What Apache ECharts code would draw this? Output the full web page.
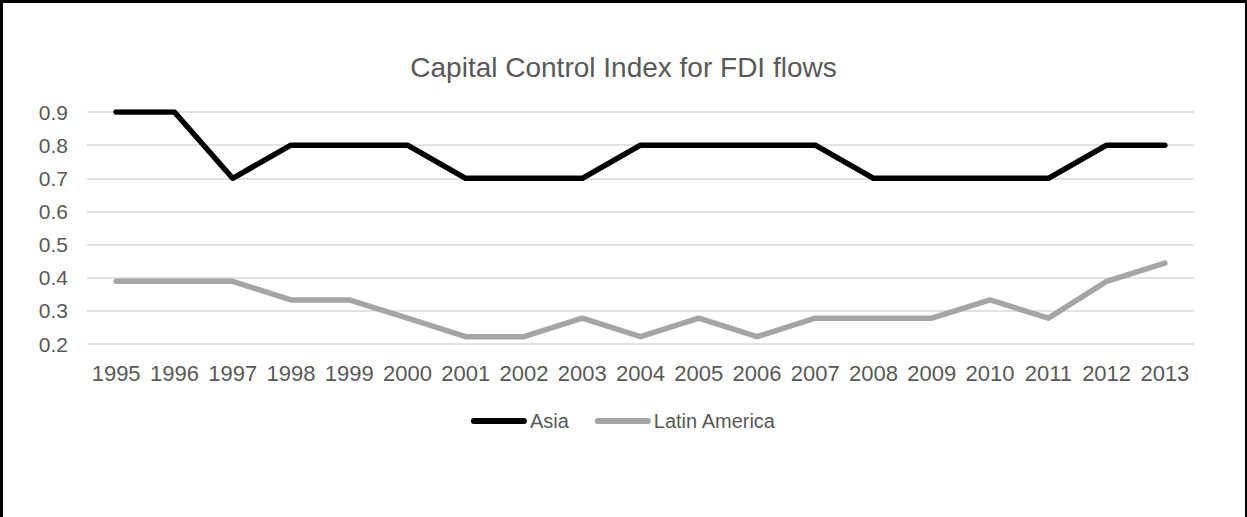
<!DOCTYPE html>
<html>
<head>
<meta charset="utf-8">
<script src="https://cdn.jsdelivr.net/npm/echarts@6/dist/echarts.min.js"></script>
<style>
  html, body { margin: 0; padding: 0; background: #fff; }
  #chart { position: absolute; left: 0; top: 0; width: 1247px; height: 517px; }
  #frame {
    position: absolute; left: 0; top: 0; width: 1247px; height: 517px;
    box-sizing: border-box; border-top: 3px solid #000; border-left: 3px solid #000;
    border-right: 2px solid #000; pointer-events: none;
  }
</style>
</head>
<body>
<div id="chart"></div>
<div id="frame"></div>
<script>
const years = ['1995','1996','1997','1998','1999','2000','2001','2002','2003','2004',
               '2005','2006','2007','2008','2009','2010','2011','2012','2013'];
const asia = [0.9, 0.9, 0.7, 0.8, 0.8, 0.8, 0.7, 0.7, 0.7, 0.8,
              0.8, 0.8, 0.8, 0.7, 0.7, 0.7, 0.7, 0.8, 0.8];
const latinAmerica = [0.389, 0.389, 0.389, 0.333, 0.333, 0.278, 0.222, 0.222, 0.278, 0.222,
                      0.278, 0.222, 0.278, 0.278, 0.278, 0.333, 0.278, 0.389, 0.444];
const seriesNames = ['Asia', 'Latin America'];
const titleText = 'Capital Control Index for FDI flows';

const font = 'Liberation Sans, Arial, sans-serif';
const textColor = '#595959';
// rounded bar used as the legend key
const legendKey = 'path://M3,0 L53,0 A3,3 0 0 1 53,6 L3,6 A3,3 0 0 1 3,0 Z';

const chart = echarts.init(document.getElementById('chart'), null, { renderer: 'svg' });
chart.setOption({
  animation: false,
  backgroundColor: '#fff',
  title: {
    text: titleText,
    left: 'center',
    top: 48,
    textStyle: { fontFamily: font, fontSize: 28, fontWeight: 'normal', color: textColor }
  },
  legend: {
    data: seriesNames,
    bottom: 81,
    left: 'center',
    icon: legendKey,
    itemWidth: 56,
    itemHeight: 6,
    itemGap: 26,
    textStyle: { fontFamily: font, fontSize: 20, color: textColor, padding: [0, 0, 0, -2] }
  },
  grid: { left: 87, right: 53, top: 112, bottom: 173, containLabel: false },
  xAxis: {
    type: 'category',
    data: years,
    boundaryGap: true,
    axisLine: { show: false },
    axisTick: { show: false },
    axisLabel: { fontFamily: font, fontSize: 22, color: textColor, margin: 18, interval: 0 }
  },
  yAxis: {
    type: 'value',
    min: 0.2,
    max: 0.9,
    interval: 0.1,
    axisLine: { show: false },
    axisTick: { show: false },
    splitLine: { lineStyle: { color: '#d9d9d9', width: 1.5 } },
    axisLabel: {
      fontFamily: font, fontSize: 21, color: textColor, margin: 19,
      formatter: v => v.toFixed(1)
    }
  },
  series: [
    {
      name: seriesNames[0],
      type: 'line',
      data: asia,
      symbol: 'none',
      lineStyle: { color: '#000', width: 5.5, cap: 'round', join: 'round' },
      itemStyle: { color: '#000' }
    },
    {
      name: seriesNames[1],
      type: 'line',
      data: latinAmerica,
      symbol: 'none',
      lineStyle: { color: '#a5a5a5', width: 5.5, cap: 'round', join: 'round' },
      itemStyle: { color: '#a5a5a5' }
    }
  ]
});
</script>
</body>
</html>
